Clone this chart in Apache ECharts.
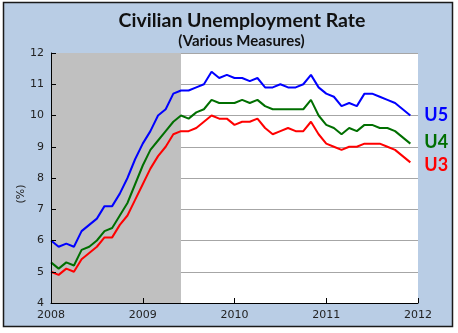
<!DOCTYPE html>
<html>
<head>
<meta charset="utf-8">
<script src="https://cdn.jsdelivr.net/npm/echarts@6/dist/echarts.min.js"></script>
<style>
  html, body { margin: 0; padding: 0; background: #ffffff; }
  #chart { width: 458px; height: 333px; }
</style>
</head>
<body>
<div id="chart"></div>
<script>
// Monthly observations, Jan 2008 – Dec 2011
const months = [];
for (let y = 2008; y <= 2011; y++) {
  for (let m = 1; m <= 12; m++) months.push(y + '-' + String(m).padStart(2, '0'));
}

// U3: official unemployment rate (%)
const u3 = [
  5.0, 4.9, 5.1, 5.0, 5.4, 5.6, 5.8, 6.1, 6.1, 6.5, 6.8, 7.3,
  7.8, 8.3, 8.7, 9.0, 9.4, 9.5, 9.5, 9.6, 9.8, 10.0, 9.9, 9.9,
  9.7, 9.8, 9.8, 9.9, 9.6, 9.4, 9.5, 9.6, 9.5, 9.5, 9.8, 9.4,
  9.1, 9.0, 8.9, 9.0, 9.0, 9.1, 9.1, 9.1, 9.0, 8.9, 8.7, 8.5
];
// U4: U3 plus discouraged workers (%)
const u4 = [
  5.3, 5.1, 5.3, 5.2, 5.7, 5.8, 6.0, 6.3, 6.4, 6.8, 7.2, 7.8,
  8.4, 8.9, 9.2, 9.5, 9.8, 10.0, 9.9, 10.1, 10.2, 10.5, 10.4, 10.4,
  10.4, 10.5, 10.4, 10.5, 10.3, 10.2, 10.2, 10.2, 10.2, 10.2, 10.5, 10.0,
  9.7, 9.6, 9.4, 9.6, 9.5, 9.7, 9.7, 9.6, 9.6, 9.5, 9.3, 9.1
];
// U5: U4 plus all marginally attached workers (%)
const u5 = [
  6.0, 5.8, 5.9, 5.8, 6.3, 6.5, 6.7, 7.1, 7.1, 7.5, 8.0, 8.6,
  9.1, 9.5, 10.0, 10.2, 10.7, 10.8, 10.8, 10.9, 11.0, 11.4, 11.2, 11.3,
  11.2, 11.2, 11.1, 11.2, 10.9, 10.9, 11.0, 10.9, 10.9, 11.0, 11.3, 10.9,
  10.7, 10.6, 10.3, 10.4, 10.3, 10.7, 10.7, 10.6, 10.5, 10.4, 10.2, 10.0
];

const yearTicks = ['2008', '2009', '2010', '2011', '2012'];
const recession = ['2008-01', '2009-06'];

const seriesNames = ['U5', 'U4', 'U3'];
const seriesColors = ['#0000ff', '#006f00', '#ff0000'];
const seriesValues = [u5, u4, u3];
const labelNudge = [[0, 0], [0, -1], [0, 3]];

const axisFont = 'DejaVu Sans, Verdana, sans-serif';
const titleFont = 'Lato, "Open Sans", sans-serif';

const toPoints = vals => vals.map((v, i) => [i, v]);

const chart = echarts.init(document.getElementById('chart'), null, { renderer: 'canvas' });

const lineSeries = seriesValues.map((vals, k) => ({
  name: seriesNames[k],
  type: 'line',
  yAxisIndex: 0,
  z: 3,
  data: toPoints(vals),
  showSymbol: false,
  symbol: 'none',
  lineStyle: { color: seriesColors[k], width: 2 },
  itemStyle: { color: seriesColors[k] },
  endLabel: {
    show: true,
    formatter: seriesNames[k],
    color: seriesColors[k],
    fontFamily: titleFont,
    fontWeight: 'bold',
    fontSize: 18,
    distance: 14,
    offset: labelNudge[k]
  },
  animation: false
}));

const option = {
  animation: false,
  backgroundColor: '#ffffff',
  graphic: [
    {
      type: 'rect',
      z: -100,
      shape: { x: 3.5, y: 2.5, width: 449, height: 324 },
      style: { fill: '#b9cde5', stroke: '#1a1a1a', lineWidth: 1.5 }
    },
    {
      type: 'text',
      z: 10,
      x: 242, y: 20.5,
      style: {
        text: 'Civilian Unemployment Rate',
        fill: '#111111',
        font: 'bold 19.5px ' + titleFont,
        align: 'center',
        verticalAlign: 'middle'
      }
    },
    {
      type: 'text',
      z: 10,
      x: 241.5, y: 41,
      style: {
        text: '(Various Measures)',
        fill: '#111111',
        font: 'bold 15px ' + titleFont,
        align: 'center',
        verticalAlign: 'middle'
      }
    },
    {
      type: 'text',
      z: 10,
      x: 21, y: 194,
      rotation: Math.PI / 2,
      style: {
        text: '(%)',
        fill: '#222222',
        font: '11px ' + axisFont,
        align: 'center',
        verticalAlign: 'middle'
      }
    }
  ],
  grid: {
    left: 51, right: 40, top: 53, bottom: 30,
    show: true,
    backgroundColor: '#ffffff',
    borderWidth: 0
  },
  xAxis: {
    type: 'value',
    min: 0, max: 48, interval: 12,
    z: 10,
    axisLine: { show: true, lineStyle: { color: '#000000', width: 1 } },
    axisTick: { show: true, inside: true, length: 5, lineStyle: { color: '#000000' } },
    axisLabel: {
      margin: 7,
      color: '#222222',
      fontFamily: axisFont,
      fontSize: 11,
      formatter: v => yearTicks[Math.round(v / 12)]
    },
    splitLine: { show: false }
  },
  yAxis: [
    {
      type: 'value',
      min: 4, max: 12, interval: 1,
      z: 0,
      axisLine: { show: false },
      axisTick: { show: false },
      axisLabel: { show: false },
      splitLine: { show: true, lineStyle: { color: '#a6a6a6', width: 1 } }
    },
    {
      type: 'value',
      position: 'left',
      min: 4, max: 12, interval: 1,
      z: 10,
      axisLine: { show: true, onZero: false, lineStyle: { color: '#000000', width: 1 } },
      axisTick: { show: true, inside: true, length: 5, lineStyle: { color: '#000000' } },
      axisLabel: {
        margin: 7,
        color: '#222222',
        fontFamily: axisFont,
        fontSize: 11
      },
      splitLine: { show: false }
    }
  ],
  series: [
    {
      name: 'recession',
      type: 'line',
      yAxisIndex: 0,
      z: 1,
      data: [],
      markArea: {
        silent: true,
        itemStyle: { color: '#c0c0c0', opacity: 1 },
        data: [[
          { xAxis: months.indexOf(recession[0]) },
          { xAxis: months.indexOf(recession[1]) }
        ]]
      }
    }
  ].concat(lineSeries)
};

chart.setOption(option);
</script>
</body>
</html>
